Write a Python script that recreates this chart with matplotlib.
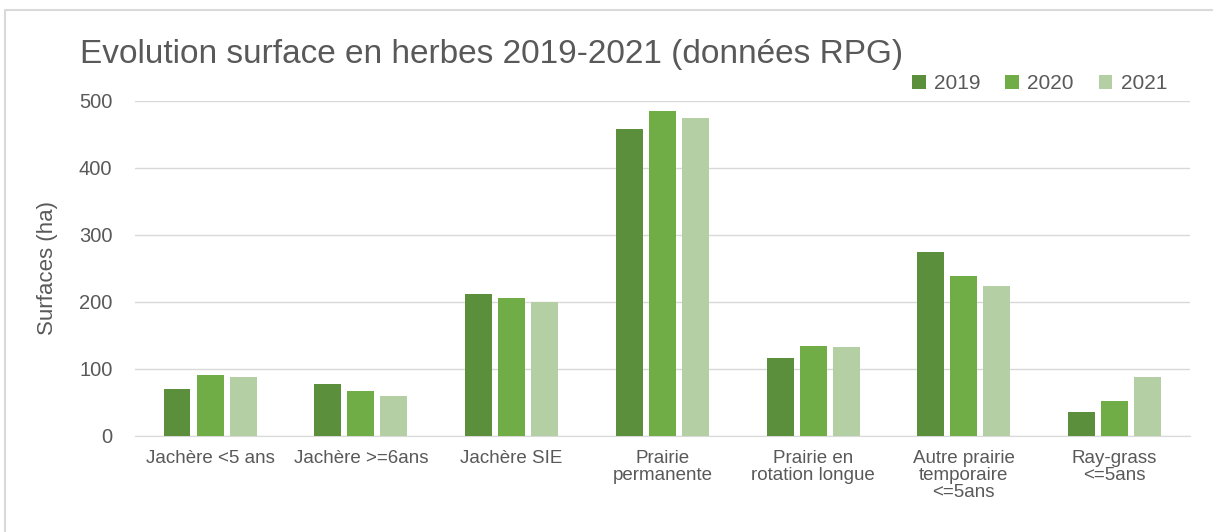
import numpy as np
import matplotlib.pyplot as plt
from matplotlib.lines import Line2D

plt.rcParams['font.family'] = ['Liberation Sans', 'DejaVu Sans']

#  DATA 
categories = ["Jachère <5 ans", "Jachère >=6ans", "Jachère SIE", "Prairie permanente",
              "Prairie en rotation longue", "Autre prairie temporaire <=5ans", "Ray-grass <=5ans"]
# same names, broken over lines so neighbours do not run into each other
tick_labels = ["Jachère <5 ans", "Jachère >=6ans", "Jachère SIE", "Prairie\npermanente",
               "Prairie en\nrotation longue", "Autre prairie\ntemporaire\n<=5ans", "Ray-grass\n<=5ans"]
years = ["2019", "2020", "2021"]
surf_2019 = [70, 77, 212, 458, 116, 275, 36]
surf_2020 = [91, 67, 206, 485, 134, 239, 52]
surf_2021 = [88, 60, 200, 474, 133, 224, 88]
colors = ["#5B8F3B", "#70AD47", "#B4CFA4"]

TXT = "#595959"

fig = plt.figure(figsize=(12.13, 5.32), dpi=100)
# chart frame (only top and left edges show)
fig.lines.append(Line2D([0.004, 0.004, 1.0], [0.0, 0.981, 0.981], transform=fig.transFigure,
                        color="#D9D9D9", lw=1.5))
ax = fig.add_axes([0.111, 0.1805, 0.870, 0.630])

x = np.arange(len(categories))
w = 0.179
step = 0.219
for i, (vals, yr) in enumerate(zip([surf_2019, surf_2020, surf_2021], years)):
    ax.bar(x + (i - 1) * step, vals, width=w, color=colors[i], label=yr, zorder=3)

ax.set_xlim(-0.5, len(categories) - 0.5)
ax.set_ylim(0, 500)
ax.set_yticks(range(0, 501, 100))
ax.grid(axis="y", color="#D9D9D9", lw=1, zorder=0)
for s in ["top", "right", "left"]:
    ax.spines[s].set_visible(False)
ax.spines["bottom"].set_color("#D9D9D9")
ax.tick_params(axis="y", length=0, colors=TXT, labelsize=14.5, pad=16)
ax.tick_params(axis="x", length=0, colors=TXT, labelsize=13.5, pad=10)
ax.set_xticks(x)
ax.set_xticklabels(tick_labels, linespacing=1.0)
ax.set_ylabel("Surfaces (ha)", color=TXT, fontsize=16, labelpad=15)

fig.text(0.066, 1 - 63 / 532, "Evolution surface en herbes 2019-2021 (données RPG)",
         fontsize=24, color=TXT, va="baseline", ha="left")

ax.legend(loc="upper right", bbox_to_anchor=(0.996, 1.135), ncol=3, frameon=False,
          fontsize=15, labelcolor=TXT, handlelength=0.65, handleheight=0.65,
          columnspacing=1.2, handletextpad=0.4)

fig.savefig("out.png", dpi=100)
